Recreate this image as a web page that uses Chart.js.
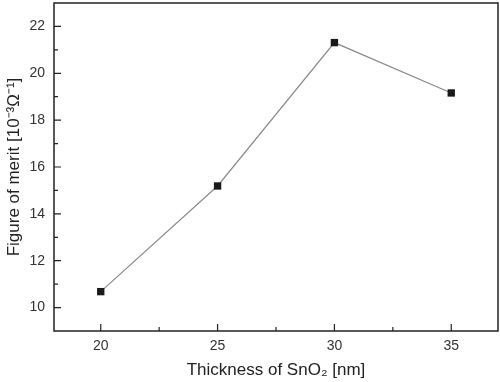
<!DOCTYPE html>
<html>
<head>
<meta charset="utf-8">
<script src="https://cdn.jsdelivr.net/npm/chart.js@4.4.0/dist/chart.umd.min.js"></script>
<style>
  html, body { margin: 0; padding: 0; background: #fff; }
  #wrap { width: 500px; height: 382px; }
</style>
</head>
<body>
<div id="wrap"><canvas id="chart1" width="500" height="382"></canvas></div>
<script>
// values
const thickness = [20, 25, 30, 35];
const merit = [10.68, 15.19, 21.31, 19.16];
const yTicks = [10, 12, 14, 16, 18, 20, 22];
const xLabel = 'Thickness of SnO\u2082 [nm]';
const yLabel = 'Figure of merit [10\u207B\u00B3\u03A9\u207B\u00B9]';

// inward ticks (major + minor) and the closed frame
const frameTicks = {
  id: 'frameTicks',
  afterDraw(chart) {
    const ctx = chart.ctx;
    const a = chart.chartArea;
    const xs = chart.scales.x, ys = chart.scales.y;
    ctx.save();
    ctx.strokeStyle = '#222';
    ctx.lineWidth = 1.5;
    ctx.strokeRect(a.left, a.top, a.right - a.left, a.bottom - a.top);
    ctx.lineWidth = 1.2;
    ctx.beginPath();
    const xt = xs.ticks.map(t => t.value);
    xt.forEach((v, i) => {
      const p = xs.getPixelForValue(v);
      ctx.moveTo(p, a.bottom); ctx.lineTo(p, a.bottom - 7);
      if (i < xt.length - 1) {
        const m = xs.getPixelForValue((v + xt[i + 1]) / 2);
        ctx.moveTo(m, a.bottom); ctx.lineTo(m, a.bottom - 4);
      }
    });
    const yt = ys.ticks.map(t => t.value);
    yt.forEach((v, i) => {
      const p = ys.getPixelForValue(v);
      ctx.moveTo(a.left, p); ctx.lineTo(a.left + 7, p);
      if (i < yt.length - 1) {
        const m = ys.getPixelForValue((v + yt[i + 1]) / 2);
        ctx.moveTo(a.left, m); ctx.lineTo(a.left + 4, m);
      }
    });
    ctx.stroke();
    ctx.restore();
  }
};

const ctx = document.getElementById('chart1').getContext('2d');
new Chart(ctx, {
  type: 'line',
  data: {
    datasets: [{
      data: thickness.map((t, i) => ({ x: t, y: merit[i] })),
      borderColor: '#8a8a8a',
      borderWidth: 1.2,
      pointStyle: 'rect',
      pointRadius: 5.2,
      pointBackgroundColor: '#1a1a1a',
      pointBorderColor: '#1a1a1a',
      pointBorderWidth: 0,
      tension: 0
    }]
  },
  options: {
    responsive: false,
    animation: false,
    layout: { autoPadding: false, padding: { top: 3, right: 2, left: 0, bottom: 0 } },
    plugins: { legend: { display: false }, tooltip: { enabled: false } },
    scales: {
      x: {
        type: 'linear',
        min: 18, max: 37,
        afterBuildTicks(s) { s.ticks = thickness.map(v => ({ value: v })); },
        afterFit(s) { s.height = 51; s.paddingLeft = 0; s.paddingRight = 0; },
        grid: { display: false, drawTicks: false },
        border: { display: false },
        ticks: { padding: 7, color: '#333', font: { family: 'Liberation Sans, Arial', size: 14 } },
        title: { display: true, text: xLabel, color: '#222', padding: { top: 6, bottom: 1 },
                 font: { family: 'Liberation Sans, Arial', size: 17 } }
      },
      y: {
        min: 9, max: 23,
        afterBuildTicks(s) { s.ticks = yTicks.map(v => ({ value: v })); },
        afterFit(s) { s.width = 54; s.paddingTop = 0; s.paddingBottom = 0; },
        grid: { display: false, drawTicks: false },
        border: { display: false },
        ticks: { padding: 9, color: '#333', font: { family: 'Liberation Sans, Arial', size: 14 } },
        title: { display: true, text: yLabel, color: '#222', padding: { top: 4, bottom: 0 },
                 font: { family: 'Liberation Sans, Arial', size: 17 } }
      }
    }
  },
  plugins: [frameTicks]
});
</script>
</body>
</html>
